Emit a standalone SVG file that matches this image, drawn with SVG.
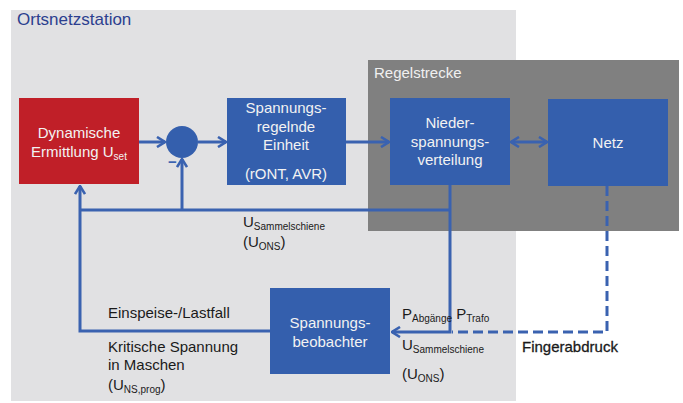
<svg xmlns="http://www.w3.org/2000/svg" width="683" height="403" viewBox="0 0 683 403">
<style>
text{font-family:"Liberation Sans",Arial,sans-serif;}
.box{fill:#345fad;}
.wt{fill:#f2f2f2;font-size:15px;text-anchor:middle;}
.lb{fill:#1a1a1a;font-size:15px;}
.sub{font-size:10px;}
.ln{fill:none;stroke:#3a62b0;stroke-width:3;}
.dash{fill:none;stroke:#3a62b0;stroke-width:3;stroke-dasharray:10,5;}
</style>
<defs>
<marker id="ah" viewBox="0 0 10 12" refX="9" refY="6" markerWidth="10" markerHeight="12" markerUnits="userSpaceOnUse" orient="auto-start-reverse">
<path d="M1,1 L9,6 L1,11" fill="none" stroke="#3a62b0" stroke-width="2.6"/>
</marker>
</defs>
<g id="ortsnetzstation">
<rect x="11" y="10" width="505" height="391" fill="#e1e1e3"/>
<text x="17" y="25" style="font-size:17px;fill:#2c3f8f">Ortsnetzstation</text>
</g>
<g id="regelstrecke">
<rect x="368" y="60" width="311" height="171" fill="#808080"/>
<text x="374" y="78" style="font-size:15px;fill:#f0f0f0">Regelstrecke</text>
</g>
<g id="connectors">
<path class="ln" d="M139,142 H165" marker-end="url(#ah)"/>
<path class="ln" d="M198,142 H226" marker-end="url(#ah)"/>
<path class="ln" d="M346,142 H389" marker-end="url(#ah)"/>
<path class="ln" d="M511,142 H547" marker-start="url(#ah)" marker-end="url(#ah)"/>
<path class="ln" d="M450,185 V332 H392" marker-end="url(#ah)"/>
<path class="ln" d="M450,210 H80"/>
<path class="ln" d="M182,210 V159" marker-end="url(#ah)"/>
<path class="ln" d="M270,331 H80 V186" marker-end="url(#ah)"/>
<path class="dash" d="M607,186 V332 H452"/>
<text x="168" y="167" style="font-size:15px;fill:#3a62b0;font-weight:bold">−</text>
</g>
<g id="dynamische">
<rect x="19" y="98" width="120" height="86" fill="#c01f28"/>
<text class="wt" x="79" y="138">Dynamische</text>
<text class="wt" x="79" y="157">Ermittlung U<tspan class="sub" dy="3">set</tspan></text>
</g>
<g id="summierer">
<circle cx="182" cy="142" r="16" fill="#345fad"/>
</g>
<g id="spannungsregelnde">
<rect class="box" x="227" y="98" width="119" height="87"/>
<text class="wt" x="286" y="113">Spannungs-</text>
<text class="wt" x="286" y="132">regelnde</text>
<text class="wt" x="286" y="150">Einheit</text>
<text class="wt" x="286" y="179">(rONT, AVR)</text>
</g>
<g id="niederspannungsverteilung">
<rect class="box" x="390" y="98" width="120" height="87"/>
<text class="wt" x="450" y="128">Nieder-</text>
<text class="wt" x="450" y="147">spannungs-</text>
<text class="wt" x="450" y="165">verteilung</text>
</g>
<g id="netz">
<rect class="box" x="548" y="99" width="120" height="87"/>
<text class="wt" x="608" y="148">Netz</text>
</g>
<g id="spannungsbeobachter">
<rect class="box" x="270" y="288" width="120" height="86"/>
<text class="wt" x="330" y="328">Spannungs-</text>
<text class="wt" x="330" y="347">beobachter</text>
</g>
<g id="labels">
<text class="lb" x="243" y="227">U<tspan class="sub" dy="3">Sammelschiene</tspan></text>
<text class="lb" x="243" y="247">(U<tspan class="sub" dy="3">ONS</tspan><tspan dy="-3">)</tspan></text>
<text class="lb" x="108" y="318">Einspeise-/Lastfall</text>
<text class="lb" x="108" y="352">Kritische Spannung</text>
<text class="lb" x="108" y="370">in Maschen</text>
<text class="lb" x="108" y="390">(U<tspan class="sub" dy="3">NS,prog</tspan><tspan dy="-3">)</tspan></text>
<text class="lb" x="402" y="319">P<tspan class="sub" dy="3">Abgänge</tspan><tspan dy="-3"> P</tspan><tspan class="sub" dy="3">Trafo</tspan></text>
<text class="lb" x="402" y="350">U<tspan class="sub" dy="3">Sammelschiene</tspan></text>
<text class="lb" x="402" y="379">(U<tspan class="sub" dy="3">ONS</tspan><tspan dy="-3">)</tspan></text>
<text class="lb" x="522" y="352" style="stroke:#1a1a1a;stroke-width:0.3">Fingerabdruck</text>
</g>
</svg>
